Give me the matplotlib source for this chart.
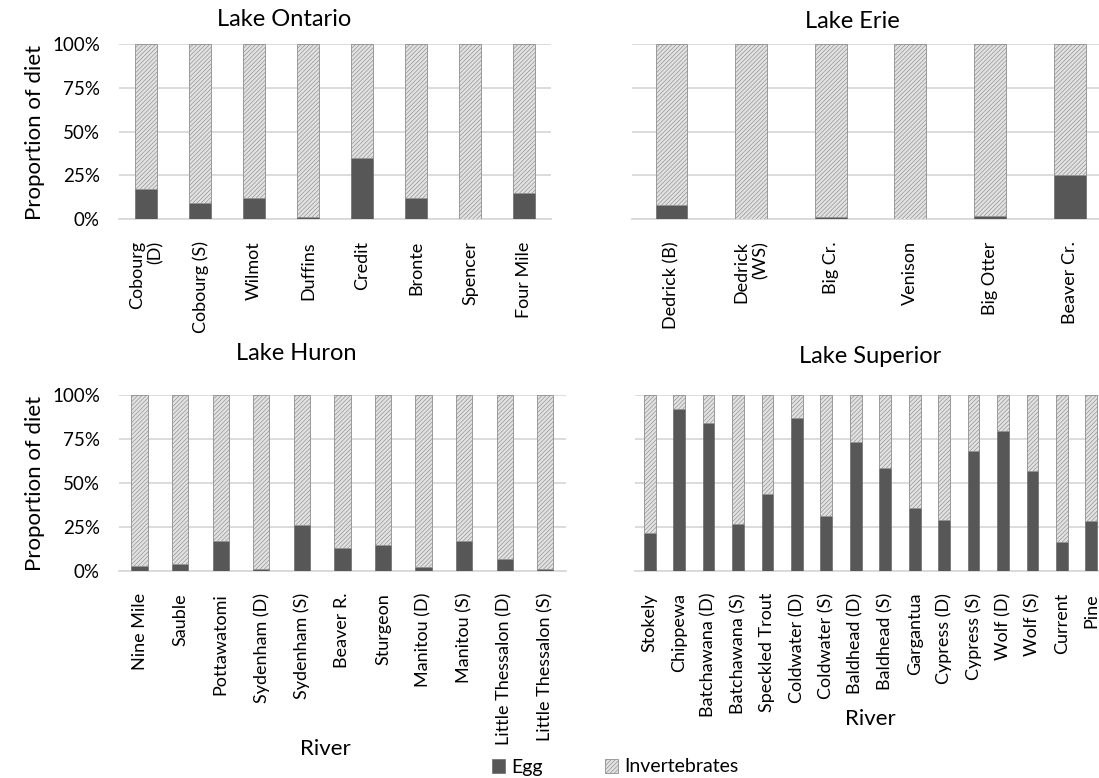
import matplotlib
matplotlib.use("Agg")
import matplotlib.pyplot as plt
from matplotlib.patches import Patch
import numpy as np

plt.rcParams['font.family'] = ['Lato', 'DejaVu Sans']
plt.rcParams['hatch.linewidth'] = 0.45

# ---- data ----
ontario_rivers = ["Cobourg\n(D)", "Cobourg (S)", "Wilmot", "Duffins", "Credit", "Bronte", "Spencer", "Four Mile"]
ontario_egg = [17.0, 9.2, 12.0, 1.0, 35.0, 12.2, 0.0, 15.0]

erie_rivers = ["Dedrick (B)", "Dedrick\n(WS)", "Big Cr.", "Venison", "Big Otter", "Beaver Cr."]
erie_egg = [8.2, 0.0, 1.0, 0.0, 2.0, 25.3]

huron_rivers = ["Nine Mile", "Sauble", "Pottawatomi", "Sydenham (D)", "Sydenham (S)", "Beaver R.",
                "Sturgeon", "Manitou (D)", "Manitou (S)", "Little Thessalon (D)", "Little Thessalon (S)"]
huron_egg = [2.6, 4.0, 16.8, 0.8, 25.9, 12.9, 14.6, 2.3, 17.1, 6.8, 0.8]

superior_rivers = ["Stokely", "Chippewa", "Batchawana (D)", "Batchawana (S)", "Speckled Trout",
                   "Coldwater (D)", "Coldwater (S)", "Baldhead (D)", "Baldhead (S)", "Gargantua",
                   "Cypress (D)", "Cypress (S)", "Wolf (D)", "Wolf (S)", "Current", "Pine"]
superior_egg = [21.4, 92.0, 84.2, 26.8, 43.6, 86.9, 31.1, 73.3, 58.3, 35.8,
                28.8, 68.2, 79.4, 57.0, 16.1, 28.4]

yticks = [0, 25, 50, 75, 100]
ytick_labels = ["0%", "25%", "50%", "75%", "100%"]

EGG_COLOR = "#575757"
INV_FACE = "#e2e2e2"
INV_EDGE = "#8e8e8e"
GRID = "#d9d9d9"
HATCH = "////////"

W, H = 1099, 778
fig = plt.figure(figsize=(W / 100, H / 100), dpi=100)


def px_axes(x0, y_top, x1, y_bot):
    return fig.add_axes([x0 / W, 1 - y_bot / H, (x1 - x0) / W, (y_bot - y_top) / H])


def panel(ax, rivers, egg, show_y):
    x = np.arange(len(rivers))
    egg = np.array(egg)
    inv = 100 - egg
    ax.bar(x, egg, width=0.4, color=EGG_COLOR, edgecolor="#6a6a6a", linewidth=0.5, zorder=3)
    ax.bar(x, inv, width=0.4, bottom=egg, color=INV_FACE, edgecolor=INV_EDGE,
           linewidth=0.6, hatch=HATCH, zorder=3)
    ax.set_xlim(-0.5, len(rivers) - 0.5)
    ax.set_ylim(0, 100)
    ax.set_yticks(yticks)
    ax.grid(axis="y", color=GRID, linewidth=1.3, zorder=0)
    ax.set_axisbelow(True)
    for s in ["top", "right", "left"]:
        ax.spines[s].set_visible(False)
    ax.spines["bottom"].set_color(GRID)
    ax.spines["bottom"].set_linewidth(1.3)
    ax.tick_params(length=0)
    ax.set_xticks(x)
    ax.set_xticklabels(rivers, rotation=90, fontsize=13, color="black",
                       ha="center", va="top", multialignment="right")
    ax.tick_params(axis="x", pad=16)
    if show_y:
        ax.set_yticklabels(ytick_labels, fontsize=13.5)
        ax.tick_params(axis="y", pad=14)
    else:
        ax.set_yticklabels([])


ax1 = px_axes(119.3, 44.3, 551, 219)
panel(ax1, ontario_rivers, ontario_egg, True)
ax2 = px_axes(631.7, 44.3, 1109.5, 219)
panel(ax2, erie_rivers, erie_egg, False)
ax3 = px_axes(119.3, 395, 565.5, 570.7)
panel(ax3, huron_rivers, huron_egg, True)
ax4 = px_axes(635, 395, 1106, 570.7)
panel(ax4, superior_rivers, superior_egg, False)

def ftext(x, y, s, **kw):
    fig.text(x / W, 1 - y / H, s, ha="center", va="center", **kw)

ftext(284, 19, "Lake Ontario", fontsize=17)
ftext(852, 21, "Lake Erie", fontsize=17)
ftext(296, 354, "Lake Huron", fontsize=17)
ftext(870, 356, "Lake Superior", fontsize=17)
ftext(35, 132, "Proportion of diet", fontsize=16, rotation=90)
ftext(35, 483, "Proportion of diet", fontsize=16, rotation=90)
ftext(325, 749, "River", fontsize=16)
ftext(870, 719, "River", fontsize=16)

handles = [Patch(facecolor=EGG_COLOR, edgecolor="#6a6a6a", linewidth=0.5, label="Egg"),
           Patch(facecolor=INV_FACE, edgecolor=INV_EDGE, linewidth=0.6, hatch=HATCH, label="Invertebrates")]
fig.legend(handles=handles, loc="center", bbox_to_anchor=(615 / W, 1 - 767 / H), ncol=2,
           frameon=False, fontsize=14, handlelength=0.7, handleheight=0.7,
           handletextpad=0.3, columnspacing=3.2)

fig.savefig("out.png", dpi=100)
